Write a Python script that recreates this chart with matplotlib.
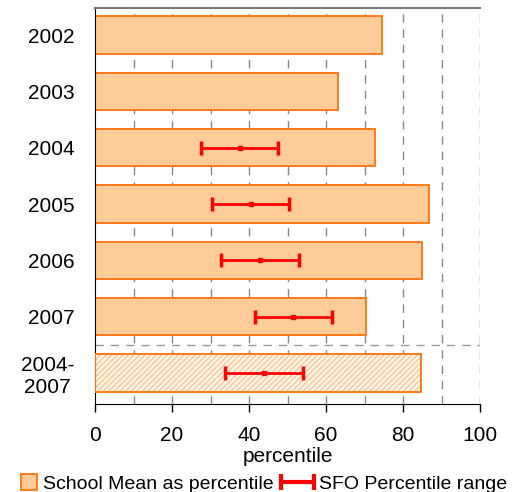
import matplotlib.pyplot as plt
from matplotlib.lines import Line2D
from matplotlib.patches import Patch, Rectangle
from matplotlib.legend_handler import HandlerBase

plt.rcParams['font.family'] = ['Liberation Sans', 'DejaVu Sans']

# data
years = ["2002", "2003", "2004", "2005", "2006", "2007", "2004-\n2007"]
school_mean = [74.5, 63.1, 72.7, 86.8, 85.0, 70.4, 84.7]
# SFO percentile range: low / mid / high; None where no range shown
sfo_low = [None, None, 27.5, 30.5, 32.8, 41.6, 33.8]
sfo_mid = [None, None, 37.7, 40.5, 42.9, 51.4, 43.9]
sfo_high = [None, None, 47.5, 50.4, 53.0, 61.6, 53.9]

FILL = "#FFCC99"
EDGE = "#FF7A1A"
RED = "#FF0000"


class SquareHandler(HandlerBase):
    # small square swatch on the right of the handle box
    def create_artists(self, legend, orig, xd, yd, width, height, fontsize, trans):
        s = fontsize * 0.85
        x0 = xd + width - s
        y0 = yd + height / 2 - s / 2
        r = Rectangle((x0, y0), s, s, facecolor=FILL, edgecolor=EDGE, lw=1.4,
                      transform=trans)
        return [r]


class RangeHandler(HandlerBase):
    # horizontal line with a cap on each end, like the range bars
    def create_artists(self, legend, orig, xd, yd, width, height, fontsize, trans):
        y = yd + height / 2
        line = Line2D([xd, xd + width], [y, y], color=RED, lw=3, transform=trans)
        caps = Line2D([xd, xd + width], [y, y], color=RED, lw=0, marker="|",
                      ms=11, mew=3, transform=trans)
        return [line, caps]


fig = plt.figure(figsize=(5.17, 4.92), dpi=100)
ax = fig.add_axes([95 / 517, 88 / 492, 385 / 517, 396 / 492])

pos = list(range(len(years)))
h = 0.66

# gridlines (dashed, every 10)
for gx in range(10, 101, 10):
    ax.axvline(gx, color="#888888", lw=1.0, ls=(0, (6, 5)), zorder=0)

# normal bars
ax.barh(pos[:-1], school_mean[:-1], height=h, color=FILL, edgecolor=EDGE,
        linewidth=1.4, zorder=2)
# hatched summary bar
ax.barh(pos[-1], school_mean[-1], height=h, color="#FFF6EE", edgecolor="#FFC48C",
        hatch="//////", linewidth=0, zorder=2)
ax.barh(pos[-1], school_mean[-1], height=h, color="none", edgecolor=EDGE,
        linewidth=1.4, zorder=3)

# separator between years and the combined period
ax.axhline(5.5, color="#999999", lw=1.0, ls=(0, (6, 5)), zorder=1)

# SFO ranges
for p, lo, mid, hi in zip(pos, sfo_low, sfo_mid, sfo_high):
    if mid is None:
        continue
    ax.errorbar(mid, p, xerr=[[mid - lo], [hi - mid]], fmt="s", color=RED,
                ms=3, lw=2, capsize=5, capthick=2.5, zorder=4)

ax.set_xlim(0, 100)
ax.set_ylim(6.55, -0.48)
ax.set_xticks(range(0, 101, 20))
ax.set_yticks(pos)
ax.set_yticklabels(years)
ax.tick_params(axis="x", direction="out", length=6, width=1, labelsize=15, pad=10)
ax.tick_params(axis="y", length=0, labelsize=15, pad=15)
for lab in ax.get_yticklabels():
    lab.set_horizontalalignment("right")
    lab.set_multialignment("center")

ax.set_xlabel("percentile", fontsize=15, labelpad=1)

ax.spines["right"].set_visible(False)
ax.spines["top"].set_color("#777777")
ax.spines["top"].set_linewidth(1.5)
ax.spines["left"].set_color("black")
ax.spines["bottom"].set_color("black")

h_mean = Patch()
h_range = Line2D([0], [0])
fig.legend([h_mean, h_range], ["School Mean as percentile", "SFO Percentile range"],
           loc="center", bbox_to_anchor=(0.495, 8 / 492), ncol=2, frameon=False,
           fontsize=14, handlelength=1.7, handletextpad=0.3, columnspacing=0.35,
           borderaxespad=0, borderpad=0,
           handler_map={h_mean: SquareHandler(), h_range: RangeHandler()})

fig.savefig("out.png", dpi=100)
